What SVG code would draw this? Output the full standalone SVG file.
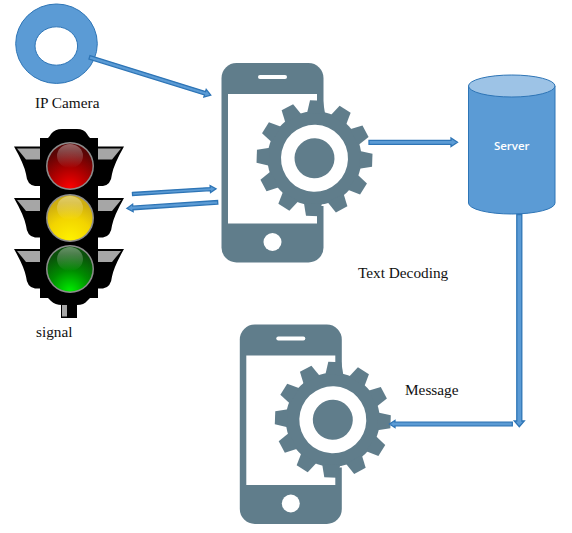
<svg xmlns="http://www.w3.org/2000/svg" xmlns:xlink="http://www.w3.org/1999/xlink" width="572" height="533" viewBox="0 0 572 533">
<style>
.lbl{font-family:"Liberation Serif","Times New Roman",serif;font-size:15.300px;fill:#111}
.blue{fill:#5b9bd5;stroke:#2e75b6;stroke-width:1}
.arr{fill:#5b9bd5;stroke:#2e75b6;stroke-width:1.300}
.slate{fill:#607d8b}
.blk{fill:#000}
.gry{fill:#a6a6a6}
.ring{fill:#8c8c8c}
.shine{fill:url(#gs)}
</style>
<defs>
<radialGradient id="gr" cx="50%" cy="100%" r="85%"><stop offset="0" stop-color="#ff0000"/><stop offset=".55" stop-color="#a80000"/><stop offset="1" stop-color="#5a0505"/></radialGradient>
<radialGradient id="gy" cx="50%" cy="100%" r="85%"><stop offset="0" stop-color="#fff200"/><stop offset=".6" stop-color="#f2d400"/><stop offset="1" stop-color="#cfae10"/></radialGradient>
<radialGradient id="gg" cx="50%" cy="100%" r="85%"><stop offset="0" stop-color="#00f000"/><stop offset=".55" stop-color="#008c00"/><stop offset="1" stop-color="#0a500a"/></radialGradient>
<linearGradient id="gs" x1="0" y1="0" x2="0" y2="1"><stop offset="0" stop-color="#fff" stop-opacity=".38"/><stop offset="1" stop-color="#fff" stop-opacity="0"/></linearGradient>
<polygon id="tooth" class="slate" points="-9,-45 -6.500,-57.800 6.500,-57.800 9,-45"/>
<g id="phone">
<rect class="slate" x="221.5" y="63" width="102" height="199.500" rx="15"/>
<rect x="228" y="94" width="89" height="129.500" fill="#fff"/>
<rect x="317" y="108" width="7" height="98" fill="#fff"/>
<rect x="258" y="75" width="29" height="4" rx="2" fill="#fff"/>
<circle cx="272.500" cy="242" r="9" fill="#fff"/>
<g transform="translate(314.500,158.300) rotate(2)">
<circle class="slate" r="47"/>
<use xlink:href="#tooth" href="#tooth"/>
<use xlink:href="#tooth" href="#tooth" transform="rotate(30)"/>
<use xlink:href="#tooth" href="#tooth" transform="rotate(60)"/>
<use xlink:href="#tooth" href="#tooth" transform="rotate(90)"/>
<use xlink:href="#tooth" href="#tooth" transform="rotate(120)"/>
<use xlink:href="#tooth" href="#tooth" transform="rotate(150)"/>
<use xlink:href="#tooth" href="#tooth" transform="rotate(180)"/>
<use xlink:href="#tooth" href="#tooth" transform="rotate(210)"/>
<use xlink:href="#tooth" href="#tooth" transform="rotate(240)"/>
<use xlink:href="#tooth" href="#tooth" transform="rotate(270)"/>
<use xlink:href="#tooth" href="#tooth" transform="rotate(300)"/>
<use xlink:href="#tooth" href="#tooth" transform="rotate(330)"/>
<circle r="33.500" fill="#fff"/>
<circle class="slate" r="20"/>
</g>
</g>
</defs>

<g id="ip-camera">
<path class="blue" fill-rule="evenodd" d="M15.700 43.700a40.800 39.700 0 1 0 81.600 0a40.800 39.700 0 1 0-81.600 0ZM35 46a21.300 19.200 0 1 1 42.600 0a21.300 19.200 0 1 1-42.600 0Z"/>
<text class="lbl" x="35" y="108">IP Camera</text>
</g>

<g id="signal">
<path class="blk" d="M61 305h16v13H61Z"/>
<rect class="gry" x="62" y="305" width="5" height="11.500"/>
<path class="blk" d="M40 138H48Q50 136 51 134Q55 129 62 129H77Q84 129 87 134Q88 136 90 138H98V298H90Q88 300 87 301Q84 305 77 305H62Q55 305 51 301Q50 300 48 298H40Z"/>
<path id="wing-l" class="blk" d="M14 146.500H40V186H35Q27 185 26 174Q24 164 14 146.500Z"/>
<path class="blk" d="M124 146.500H98V186H103Q111 185 112 174Q114 164 124 146.500Z"/>
<path class="blk" d="M14 198H40V237.500H35Q27 236.500 26 225.500Q24 215.500 14 198Z"/>
<path class="blk" d="M124 198H98V237.500H103Q111 236.500 112 225.500Q114 215.500 124 198Z"/>
<path class="blk" d="M14 249H40V288.500H35Q27 287.500 26 276.500Q24 266.500 14 249Z"/>
<path class="blk" d="M124 249H98V288.500H103Q111 287.500 112 276.500Q114 266.500 124 249Z"/>
<path class="gry" d="M17 148.500H40V159.500H26Z"/>
<path class="gry" d="M121 148.500H98V159.500H112Z"/>
<path class="gry" d="M17 200H40V211H26Z"/>
<path class="gry" d="M121 200H98V211H112Z"/>
<path class="gry" d="M17 251H40V262H26Z"/>
<path class="gry" d="M121 251H98V262H112Z"/>
<circle class="ring" cx="70" cy="166" r="24"/>
<circle cx="70" cy="166" r="22.500" fill="url(#gr)"/>
<ellipse class="shine" cx="70" cy="156" rx="13" ry="12"/>
<circle class="ring" cx="70" cy="218" r="24"/>
<circle cx="70" cy="218" r="22.500" fill="url(#gy)"/>
<ellipse class="shine" cx="70" cy="208" rx="13" ry="12"/>
<circle class="ring" cx="70" cy="269" r="24"/>
<circle cx="70" cy="269" r="22.500" fill="url(#gg)"/>
<ellipse class="shine" cx="70" cy="259" rx="13" ry="12"/>
<text class="lbl" x="36" y="337">signal</text>
</g>

<g id="phone-decoder">
<use xlink:href="#phone" href="#phone"/>
<text class="lbl" x="358" y="278">Text Decoding</text>
</g>

<g id="phone-message">
<use xlink:href="#phone" href="#phone" transform="translate(18.300,261.500)"/>
<text class="lbl" x="405" y="395">Message</text>
</g>

<g id="server">
<path class="blue" d="M468.500 86V203A43.250 11 0 0 0 555 203V86Z"/>
<ellipse cx="511.750" cy="86" rx="43.250" ry="11" fill="#9dc3e6" stroke="#2e75b6"/>
<text x="511.750" y="150" text-anchor="middle" font-family="'Open Sans',sans-serif" font-size="11.500" font-weight="600" fill="#fff">Server</text>
</g>

<g id="connectors">
<polygon class="arr" transform="translate(89.500,57.300) rotate(17.300)" points="0,-1.800 121,-1.800 121,-4 127,0 121,4 121,1.800 0,1.800"/>
<polygon class="arr" transform="translate(132.500,194) rotate(-3.600)" points="0,-1.500 78,-1.500 78,-3.500 83.700,0 78,3.500 78,1.500 0,1.500"/>
<polygon class="arr" transform="translate(217.700,202.300) rotate(176.200)" points="0,-1.800 85,-1.800 85,-3.800 91,0 85,3.800 85,1.800 0,1.800"/>
<polygon class="arr" points="369,140.300 451,140.300 451,138 457.500,142.300 451,146.600 451,144.300 369,144.300"/>
<polygon class="arr" points="516.800,214.500 521.800,214.500 521.800,421 524.300,421 519.300,426.700 514.300,421 516.800,421"/>
<polygon class="arr" points="512.300,422.200 395,422.200 395,420.500 389.500,424 395,427.500 395,425.800 512.300,425.800"/>
</g>
</svg>
